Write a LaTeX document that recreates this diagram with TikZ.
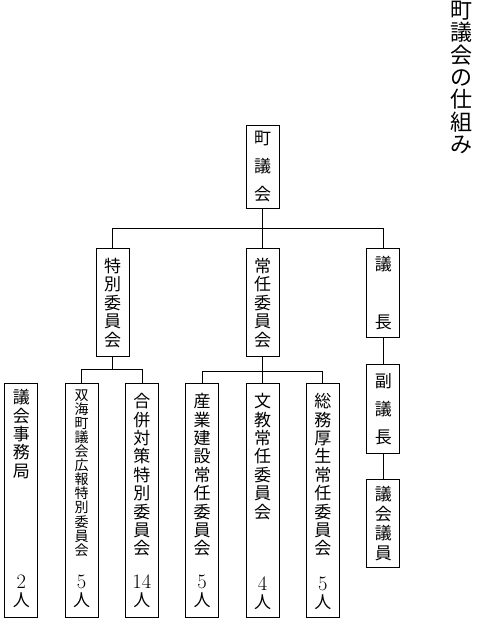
\documentclass[tikz,border=0pt]{standalone}
\usepackage{fontspec}
\usepackage{tikz}
\usetikzlibrary{positioning}
\newfontfamily\jp{Noto Sans CJK JP}

\begin{document}
\begin{tikzpicture}[
  x=1pt,y=-1pt,
  node distance=26.5pt,
  box/.style={draw,line width=0.8pt,minimum width=33pt,inner sep=0pt,align=center,
    font=\jp\fontsize{17}{18.5}\selectfont},
  pitch/.style={font=\jp\fontsize{17}{#1}\selectfont},
  longbox/.style={box,minimum height=234pt},
  boxtext/.style={inner sep=0pt,align=center,font=\jp\fontsize{17}{18.4}\selectfont},
  count/.style={inner sep=0pt,align=center,font=\fontsize{20.5}{18}\selectfont},
  line/.style={line width=0.8pt}
]
\useasboundingbox (0,0) rectangle (480,631);
% title
\node[inner sep=0pt,align=center,anchor=north,font=\jp\fontsize{22}{22.3}\selectfont]
  (title) at (461,1) {町\\議\\会\\の\\仕\\組\\み};
% upper part
\node[box,pitch=28,minimum height=83pt] (cho) at (262.5,166.5) {町\\議\\会};
\node[box,minimum height=108pt,below=40pt of cho] (jonin) {常\\任\\委\\員\\会};
\node[box,minimum height=108pt,left=116pt of jonin] (tokubetsu) {特\\別\\委\\員\\会};
\node[box,pitch=58,minimum height=89pt,right=87pt of jonin.north east,anchor=north west] (gicho) {議\\長};
\node[box,pitch=28,minimum height=89pt,below=26pt of gicho] (fuku) {副\\議\\長};
\node[box,pitch=19.5,minimum height=88pt,below=25pt of fuku] (giin) {議\\会\\議\\員};
% lower part
\node[longbox,below=26pt of jonin] (bunkyo) {};
\node[longbox,left=of bunkyo] (sangyo) {};
\node[longbox,right=of bunkyo] (somu) {};
\node[longbox,left=of sangyo] (gappei) {};
\node[longbox,left=of gappei] (kouhou) {};
\node[longbox,left=of kouhou] (jimu) {};
\node[boxtext,below=6pt of jimu.north] (jimu-txt) {議\\会\\事\\務\\局};
\node[boxtext,font=\jp\fontsize{14}{14.1}\selectfont,below=6pt of kouhou.north] (kouhou-txt)
  {双\\海\\町\\議\\会\\広\\報\\特\\別\\委\\員\\会};
\node[boxtext,below=10pt of gappei.north] (gappei-txt) {合\\併\\対\\策\\特\\別\\委\\員\\会};
\node[boxtext,below=10pt of sangyo.north] (sangyo-txt) {産\\業\\建\\設\\常\\任\\委\\員\\会};
\node[boxtext,below=10pt of bunkyo.north] (bunkyo-txt) {文\\教\\常\\任\\委\\員\\会};
\node[boxtext,below=10pt of somu.north] (somu-txt) {総\\務\\厚\\生\\常\\任\\委\\員\\会};
\node[count,above=10pt of jimu.south] (jimu-n) {2\\{\jp\fontsize{17}{18}\selectfont 人}};
\node[count,above=10pt of kouhou.south] (kouhou-n) {5\\{\jp\fontsize{17}{18}\selectfont 人}};
\node[count,above=10pt of gappei.south] (gappei-n) {14\\{\jp\fontsize{17}{18}\selectfont 人}};
\node[count,above=10pt of sangyo.south] (sangyo-n) {5\\{\jp\fontsize{17}{18}\selectfont 人}};
\node[count,above=8pt of bunkyo.south] (bunkyo-n) {4\\{\jp\fontsize{17}{18}\selectfont 人}};
\node[count,above=8pt of somu.south] (somu-n) {5\\{\jp\fontsize{17}{18}\selectfont 人}};
% connectors
\draw[line] (cho) -- (jonin);
\draw[line] (tokubetsu.north) -- ++(0,-20) -| (gicho.north);
\draw[line] (gicho) -- (fuku) -- (giin);
\draw[line] (tokubetsu.south) -- ++(0,12);
\draw[line] (kouhou.north) -- ++(0,-14) -| (gappei.north);
\draw[line] (jonin) -- (bunkyo);
\draw[line] (sangyo.north) -- ++(0,-12) -| (somu.north);
\end{tikzpicture}
\end{document}
